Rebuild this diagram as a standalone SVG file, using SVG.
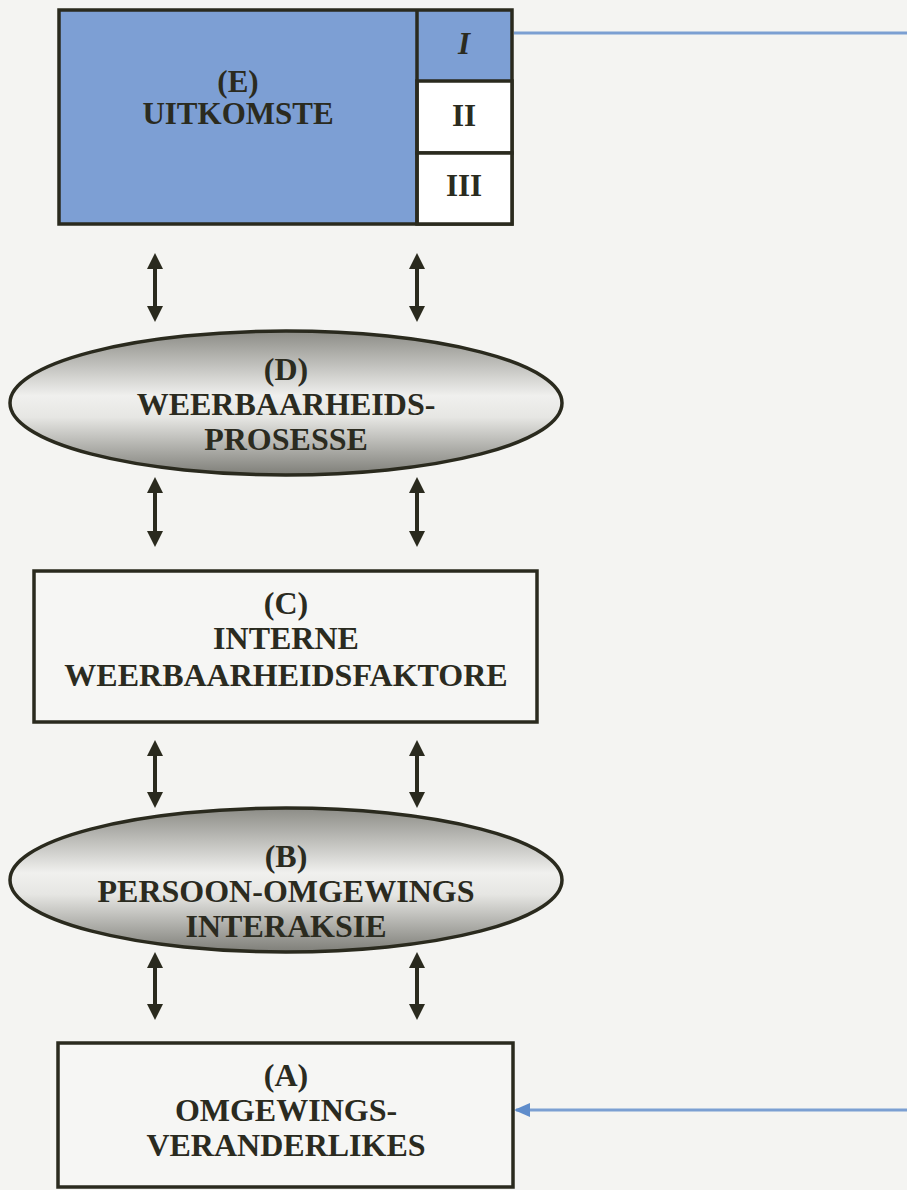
<svg xmlns="http://www.w3.org/2000/svg" width="907" height="1190" viewBox="0 0 907 1190">
<style>
.box{stroke:#2a2a1e;stroke-width:3.5}
.ell{fill:url(#grey);stroke:#2a2a1e;stroke-width:3.5}
.t{font-family:"Liberation Serif","Times New Roman",serif;font-weight:bold;font-size:31px;fill:#2b2b1f;text-anchor:middle}
.s{font-size:32px}
.ar{stroke:#2a2a1e;stroke-width:4;fill:none;marker-start:url(#ah);marker-end:url(#ah)}
.blue{stroke:#7b9fd2;stroke-width:3;fill:none}
</style>
<defs>
<linearGradient id="grey" x1="0" y1="0" x2="0" y2="1">
<stop offset="0" stop-color="#8c8c86"/>
<stop offset="0.45" stop-color="#f0f0ee"/>
<stop offset="0.6" stop-color="#e6e6e3"/>
<stop offset="1" stop-color="#7e7e78"/>
</linearGradient>
<marker id="ah" viewBox="0 0 16 16" refX="12" refY="8" markerWidth="16" markerHeight="16" markerUnits="userSpaceOnUse" orient="auto-start-reverse">
<path d="M0,0 L16,8 L0,16 Z" fill="#2a2a1e"/>
</marker>
<marker id="bh" viewBox="0 0 16 14" refX="14" refY="7" markerWidth="16" markerHeight="14" markerUnits="userSpaceOnUse" orient="auto">
<path d="M0,0 L16,7 L0,14 Z" fill="#5f8ccb"/>
</marker>
</defs>
<rect width="907" height="1190" fill="#f4f4f2"/>

<g id="connectors">
<line class="blue" x1="514" y1="33" x2="907" y2="33"/>
<line class="blue" x1="907" y1="1110" x2="516" y2="1110" stroke="#6a95cf" marker-end="url(#bh)"/>
<line class="ar" x1="155" y1="257" x2="155" y2="318"/>
<line class="ar" x1="417" y1="257" x2="417" y2="318"/>
<line class="ar" x1="155" y1="481" x2="155" y2="543"/>
<line class="ar" x1="417" y1="481" x2="417" y2="543"/>
<line class="ar" x1="155" y1="744" x2="155" y2="804"/>
<line class="ar" x1="417" y1="744" x2="417" y2="804"/>
<line class="ar" x1="155" y1="956" x2="155" y2="1016"/>
<line class="ar" x1="417" y1="956" x2="417" y2="1016"/>
</g>

<g id="nodeE">
<rect class="box" x="59" y="10" width="453" height="214" fill="#7d9fd4"/>
<rect class="box" x="417" y="81" width="95" height="72" fill="#ffffff"/>
<rect class="box" x="417" y="153" width="95" height="71" fill="#ffffff"/>
<line class="box" x1="417" y1="10" x2="417" y2="224"/>
<text class="t" x="238" y="92">(E)</text>
<text class="t" x="238" y="124">UITKOMSTE</text>
<text class="t" x="464" y="54" font-style="italic">I</text>
<text class="t" x="464" y="126">II</text>
<text class="t" x="464" y="196">III</text>
</g>

<g id="nodeD">
<ellipse class="ell" cx="286" cy="403" rx="276" ry="72"/>
<text class="t s" x="286" y="380">(D)</text>
<text class="t s" x="286" y="415">WEERBAARHEIDS-</text>
<text class="t s" x="286" y="450">PROSESSE</text>
</g>

<g id="nodeC">
<rect class="box" x="34" y="571" width="503" height="151" fill="#f6f6f4"/>
<text class="t s" x="286" y="614">(C)</text>
<text class="t s" x="286" y="649">INTERNE</text>
<text class="t s" x="286" y="686">WEERBAARHEIDSFAKTORE</text>
</g>

<g id="nodeB">
<ellipse class="ell" cx="286" cy="880" rx="276" ry="72"/>
<text class="t s" x="286" y="867">(B)</text>
<text class="t s" x="286" y="902">PERSOON-OMGEWINGS</text>
<text class="t s" x="286" y="937">INTERAKSIE</text>
</g>

<g id="nodeA">
<rect class="box" x="58" y="1043" width="455" height="144" fill="#f6f6f4"/>
<text class="t s" x="286" y="1086">(A)</text>
<text class="t s" x="286" y="1121">OMGEWINGS-</text>
<text class="t s" x="286" y="1156">VERANDERLIKES</text>
</g>
</svg>
